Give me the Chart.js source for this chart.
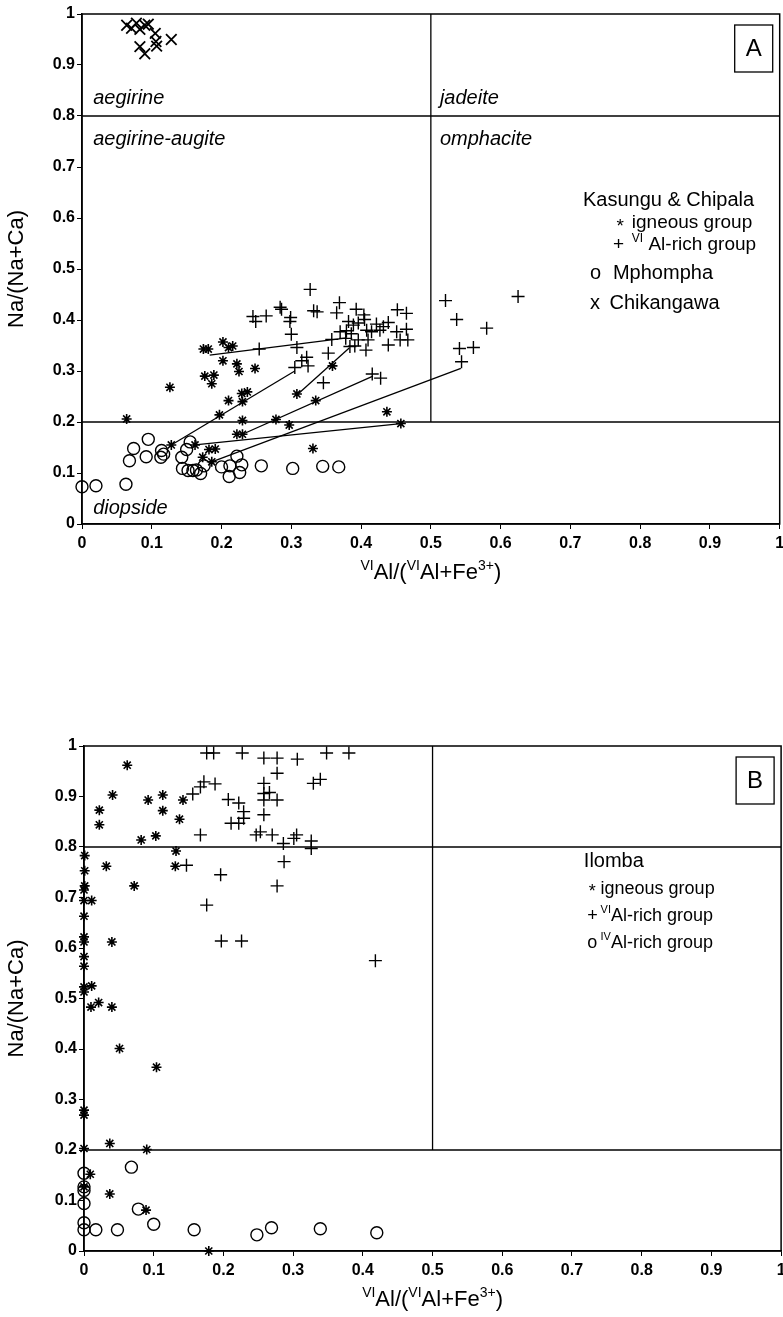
<!DOCTYPE html>
<html>
<head>
<meta charset="utf-8">
<script src="https://cdn.jsdelivr.net/npm/chart.js@4/dist/chart.umd.min.js"></script>
<style>
  html, body { margin: 0; padding: 0; background: #fff; }
  #page { position: relative; width: 783px; height: 1317px; overflow: hidden; }
  canvas { position: absolute; left: 0; }
  #chartA { top: 0; }
  #chartB { top: 700px; }
</style>
</head>
<body>
<div id="page">
  <canvas id="chartA" width="789" height="600"></canvas>
  <canvas id="chartB" width="789" height="617"></canvas>
</div>
<script>
// field boundaries (same in both diagrams)
const boundaryLines = [
    [[0, 0.8], [1, 0.8]],
    [[0, 0.2], [1, 0.2]],
    [[0.5, 0.2], [0.5, 1]]
];

// --- A: Kasungu & Chipala, Mphompha, Chikangawa
const igneousA = [
    [0.064, 0.206], [0.126, 0.268], [0.128, 0.155], [0.162, 0.155], [0.173, 0.131], [0.182, 0.146],
    [0.191, 0.147], [0.186, 0.122], [0.186, 0.275], [0.197, 0.214], [0.210, 0.242], [0.229, 0.256],
    [0.237, 0.259], [0.230, 0.240], [0.230, 0.203], [0.222, 0.176], [0.230, 0.176], [0.278, 0.205],
    [0.297, 0.194], [0.308, 0.255], [0.335, 0.242], [0.331, 0.148], [0.359, 0.310], [0.437, 0.220],
    [0.457, 0.197], [0.174, 0.343], [0.181, 0.343], [0.202, 0.357], [0.210, 0.346], [0.216, 0.349],
    [0.202, 0.320], [0.222, 0.314], [0.225, 0.299], [0.248, 0.305], [0.176, 0.290], [0.189, 0.292]
];
const alRichA = [
    [0.327, 0.460], [0.245, 0.407], [0.264, 0.408], [0.249, 0.397], [0.284, 0.425], [0.286, 0.421],
    [0.299, 0.405], [0.298, 0.397], [0.300, 0.372], [0.254, 0.343], [0.308, 0.346], [0.332, 0.418],
    [0.337, 0.416], [0.305, 0.307], [0.315, 0.320], [0.322, 0.327], [0.324, 0.310], [0.369, 0.434],
    [0.365, 0.414], [0.393, 0.421], [0.404, 0.410], [0.405, 0.401], [0.382, 0.397], [0.389, 0.390],
    [0.396, 0.394], [0.370, 0.377], [0.379, 0.379], [0.386, 0.373], [0.408, 0.380], [0.415, 0.377],
    [0.422, 0.392], [0.427, 0.380], [0.439, 0.395], [0.432, 0.387], [0.410, 0.361], [0.396, 0.361],
    [0.391, 0.349], [0.384, 0.348], [0.407, 0.341], [0.378, 0.364], [0.358, 0.362], [0.353, 0.335],
    [0.346, 0.277], [0.452, 0.420], [0.465, 0.413], [0.451, 0.377], [0.456, 0.361], [0.465, 0.382],
    [0.467, 0.361], [0.439, 0.351], [0.416, 0.294], [0.428, 0.286], [0.521, 0.438], [0.537, 0.401],
    [0.580, 0.384], [0.541, 0.344], [0.561, 0.346], [0.544, 0.318], [0.625, 0.446]
];
const mphompha = [
    [0.000, 0.073], [0.020, 0.075], [0.063, 0.078], [0.068, 0.124], [0.074, 0.148], [0.092, 0.132],
    [0.095, 0.166], [0.114, 0.144], [0.113, 0.131], [0.117, 0.137], [0.143, 0.131], [0.150, 0.146],
    [0.155, 0.161], [0.144, 0.109], [0.152, 0.105], [0.159, 0.105], [0.164, 0.106], [0.170, 0.099],
    [0.175, 0.114], [0.200, 0.112], [0.212, 0.114], [0.211, 0.093], [0.222, 0.133], [0.229, 0.116],
    [0.226, 0.101], [0.257, 0.114], [0.302, 0.109], [0.345, 0.113], [0.368, 0.112]
];
const chikangawa = [
    [0.064, 0.978], [0.071, 0.972], [0.078, 0.982], [0.083, 0.970], [0.090, 0.978], [0.095, 0.980],
    [0.105, 0.962], [0.106, 0.946], [0.107, 0.937], [0.083, 0.936], [0.090, 0.922], [0.128, 0.950]
];
// igneous core -> Al-rich rim tie lines
const tieLinesA = [
    [[0.183, 0.331], [0.380, 0.365]],
    [[0.128, 0.155], [0.305, 0.300]],
    [[0.308, 0.253], [0.383, 0.345]],
    [[0.230, 0.176], [0.417, 0.290]],
    [[0.162, 0.155], [0.457, 0.197]],
    [[0.186, 0.122], [0.543, 0.305]]
];

// --- B: Ilomba
const igneousB = [
    [0.062, 0.962], [0.022, 0.873], [0.022, 0.844], [0.041, 0.903], [0.092, 0.893], [0.113, 0.903],
    [0.113, 0.872], [0.082, 0.814], [0.103, 0.822], [0.137, 0.855], [0.142, 0.893], [0.132, 0.792],
    [0.131, 0.762], [0.032, 0.762], [0.001, 0.783], [0.001, 0.753], [0.001, 0.723], [0.072, 0.723],
    [0.000, 0.715], [0.000, 0.694], [0.011, 0.694], [0.000, 0.663], [0.000, 0.622], [0.000, 0.612],
    [0.000, 0.583], [0.000, 0.564], [0.000, 0.523], [0.011, 0.525], [0.000, 0.513], [0.010, 0.483],
    [0.021, 0.492], [0.040, 0.483], [0.040, 0.612], [0.051, 0.401], [0.104, 0.364], [0.000, 0.279],
    [0.000, 0.269], [0.000, 0.203], [0.037, 0.213], [0.090, 0.201], [0.009, 0.152], [0.037, 0.113],
    [0.089, 0.081], [0.000, 0.127], [0.179, 0.000]
];
const viAlRichB = [
    [0.156, 0.905], [0.167, 0.919], [0.172, 0.929], [0.188, 0.925], [0.176, 0.986], [0.186, 0.986],
    [0.227, 0.986], [0.167, 0.824], [0.207, 0.894], [0.222, 0.887], [0.229, 0.870], [0.229, 0.857],
    [0.211, 0.847], [0.222, 0.847], [0.147, 0.764], [0.196, 0.745], [0.258, 0.976], [0.277, 0.976],
    [0.306, 0.974], [0.348, 0.986], [0.380, 0.986], [0.277, 0.946], [0.258, 0.926], [0.258, 0.906],
    [0.266, 0.908], [0.258, 0.893], [0.277, 0.893], [0.258, 0.864], [0.247, 0.824], [0.253, 0.830],
    [0.270, 0.824], [0.286, 0.807], [0.301, 0.817], [0.305, 0.824], [0.326, 0.812], [0.326, 0.797],
    [0.329, 0.926], [0.339, 0.934], [0.287, 0.771], [0.277, 0.723], [0.176, 0.685], [0.197, 0.614],
    [0.226, 0.614], [0.418, 0.575]
];
const ivAlRichB = [
    [0.000, 0.154], [0.000, 0.127], [0.000, 0.120], [0.000, 0.094], [0.000, 0.056], [0.000, 0.042],
    [0.017, 0.042], [0.048, 0.042], [0.068, 0.166], [0.078, 0.083], [0.100, 0.053], [0.158, 0.042],
    [0.248, 0.032], [0.269, 0.046], [0.339, 0.044], [0.420, 0.036]
];

const axisTicks = [0, 0.1, 0.2, 0.3, 0.4, 0.5, 0.6, 0.7, 0.8, 0.9, 1];

const FONT = '"Liberation Sans", Arial, Helvetica, sans-serif';
Chart.defaults.font.family = FONT;
Chart.defaults.color = '#000';

function toXY(pairs) {
    return pairs.map(function(p) { return { x: p[0], y: p[1] }; });
}

function pointSet(pairs, style, radius, width) {
    return {
        data: toXY(pairs),
        pointStyle: style,
        pointRadius: radius,
        borderColor: '#000',
        backgroundColor: 'rgba(0,0,0,0)',
        pointBorderWidth: width,
        showLine: false,
        clip: false
    };
}

function lineSet(pairs, width) {
    return {
        data: toXY(pairs),
        showLine: true,
        borderColor: '#000',
        borderWidth: width,
        pointRadius: 0,
        fill: false
    };
}

// text with small raised parts, parts = [[text, isSup], ...]
function setFont(ctx, style, size, sup) {
    ctx.font = style + ' ' + (sup ? Math.round(size * 0.62) : size) + 'px ' + FONT;
}

function richWidth(ctx, parts, size, style) {
    var w = 0;
    parts.forEach(function(p) {
        setFont(ctx, style, size, p[1]);
        w += ctx.measureText(p[0]).width;
    });
    return w;
}

function drawRich(ctx, x, y, parts, size, style, align) {
    var cx = align === 'center' ? x - richWidth(ctx, parts, size, style) / 2 : x;
    ctx.textAlign = 'left';
    ctx.textBaseline = 'middle';
    parts.forEach(function(p) {
        setFont(ctx, style, size, p[1]);
        ctx.fillText(p[0], cx, p[1] ? y - size * 0.32 : y);
        cx += ctx.measureText(p[0]).width;
    });
}

const annotatePlugin = {
    id: 'annotate',
    afterDraw: function(chart, args, opts) {
        var ctx = chart.ctx, a = chart.chartArea;
        var xs = chart.scales.x, ys = chart.scales.y;
        ctx.save();
        ctx.fillStyle = '#000';
        ctx.strokeStyle = '#000';
        ctx.lineWidth = 1.5;
        ctx.strokeRect(a.left, a.top, a.right - a.left, a.bottom - a.top);

        (opts.labels || []).forEach(function(l) {
            drawRich(ctx, xs.getPixelForValue(l.x), ys.getPixelForValue(l.y), l.parts, l.size, l.style || '', 'left');
        });

        // panel letter box
        var bw = 38, bh = 47;
        var bx = a.right - 7 - bw, by = a.top + 11;
        ctx.lineWidth = 1.3;
        ctx.strokeRect(bx, by, bw, bh);
        ctx.font = '24px ' + FONT;
        ctx.textAlign = 'center';
        ctx.textBaseline = 'middle';
        ctx.fillText(opts.letter, bx + bw / 2, by + bh / 2 + 1);

        // x axis title
        drawRich(ctx, (a.left + a.right) / 2, a.bottom + 49,
            [['VI', true], ['Al/(', false], ['VI', true], ['Al+Fe', false], ['3+', true], [')', false]],
            22, '', 'center');
        ctx.restore();
    }
};

function makeChart(id, datasets, padTop, yWidth, xHeight, letter, labels) {
    return new Chart(document.getElementById(id), {
        type: 'scatter',
        data: { datasets: datasets },
        options: {
            responsive: false,
            animation: false,
            devicePixelRatio: 1,
            events: [],
            layout: { padding: { top: padTop, right: 3, left: 0, bottom: 0 } },
            plugins: {
                legend: { display: false },
                tooltip: { enabled: false },
                annotate: { letter: letter, labels: labels }
            },
            scales: {
                x: {
                    type: 'linear', min: 0, max: 1,
                    afterBuildTicks: function(s) { s.ticks = axisTicks.map(function(v) { return { value: v }; }); },
                    ticks: {
                        color: '#000', padding: 5, maxRotation: 0, autoSkip: false,
                        font: { size: 16, weight: 'bold' },
                        callback: function(v) { return String(Number(v.toFixed(1))); }
                    },
                    grid: { drawOnChartArea: false, drawTicks: true, tickLength: 5, color: '#000', lineWidth: 1 },
                    border: { display: true, color: '#000', width: 1.5 },
                    afterFit: function(s) { s.height = xHeight; s.paddingLeft = 0; s.paddingRight = 0; }
                },
                y: {
                    type: 'linear', min: 0, max: 1,
                    afterBuildTicks: function(s) { s.ticks = axisTicks.map(function(v) { return { value: v }; }); },
                    ticks: {
                        color: '#000', padding: 2, autoSkip: false,
                        font: { size: 16, weight: 'bold' },
                        callback: function(v) { return String(Number(v.toFixed(1))); }
                    },
                    grid: { drawOnChartArea: false, drawTicks: true, tickLength: 5, color: '#000', lineWidth: 1 },
                    border: { display: true, color: '#000', width: 1.5 },
                    title: { display: true, text: 'Na/(Na+Ca)', color: '#000', font: { size: 22 }, padding: { top: 4, bottom: 0 } },
                    afterFit: function(s) { s.width = yWidth; s.paddingTop = 0; s.paddingBottom = 0; }
                }
            }
        },
        plugins: [annotatePlugin]
    });
}

var setsA = boundaryLines.map(function(l) { return lineSet(l, 1.3); })
    .concat(tieLinesA.map(function(l) { return lineSet(l, 1.3); }))
    .concat([
        pointSet(igneousA, 'star', 5, 1.6),
        pointSet(alRichA, 'cross', 6.5, 1.4),
        pointSet(mphompha, 'circle', 6, 1.4),
        pointSet(chikangawa, 'crossRot', 7.5, 1.8)
    ]);

makeChart('chartA', setsA, 14, 82, 76, 'A', [
    { x: 0.016, y: 0.835, parts: [['aegirine', false]], size: 20, style: 'italic' },
    { x: 0.513, y: 0.835, parts: [['jadeite', false]], size: 20, style: 'italic' },
    { x: 0.016, y: 0.755, parts: [['aegirine-augite', false]], size: 20, style: 'italic' },
    { x: 0.513, y: 0.755, parts: [['omphacite', false]], size: 20, style: 'italic' },
    { x: 0.016, y: 0.031, parts: [['diopside', false]], size: 20, style: 'italic' },
    { x: 0.718, y: 0.635, parts: [['Kasungu & Chipala', false]], size: 20 },
    { x: 0.766, y: 0.582, parts: [['*', false]], size: 19 },
    { x: 0.788, y: 0.590, parts: [['igneous group', false]], size: 19 },
    { x: 0.761, y: 0.547, parts: [['+', false]], size: 19 },
    { x: 0.788, y: 0.547, parts: [['VI', true], [' Al-rich group', false]], size: 19 },
    { x: 0.728, y: 0.492, parts: [['o', false]], size: 20 },
    { x: 0.761, y: 0.492, parts: [['Mphompha', false]], size: 20 },
    { x: 0.728, y: 0.433, parts: [['x', false]], size: 20 },
    { x: 0.756, y: 0.433, parts: [['Chikangawa', false]], size: 20 }
]);

var setsB = boundaryLines.map(function(l) { return lineSet(l, 1.3); })
    .concat([
        pointSet(igneousB, 'star', 5, 1.6),
        pointSet(viAlRichB, 'cross', 6.5, 1.4),
        pointSet(ivAlRichB, 'circle', 6, 1.4)
    ]);

makeChart('chartB', setsB, 46, 84, 66, 'B', [
    { x: 0.717, y: 0.772, parts: [['Ilomba', false]], size: 20 },
    { x: 0.724, y: 0.710, parts: [['*', false]], size: 18 },
    { x: 0.741, y: 0.717, parts: [['igneous group', false]], size: 18 },
    { x: 0.722, y: 0.663, parts: [['+', false]], size: 18 },
    { x: 0.741, y: 0.663, parts: [['VI', true], ['Al-rich group', false]], size: 18 },
    { x: 0.722, y: 0.610, parts: [['o', false]], size: 18 },
    { x: 0.741, y: 0.610, parts: [['IV', true], ['Al-rich group', false]], size: 18 }
]);
</script>
</body>
</html>
